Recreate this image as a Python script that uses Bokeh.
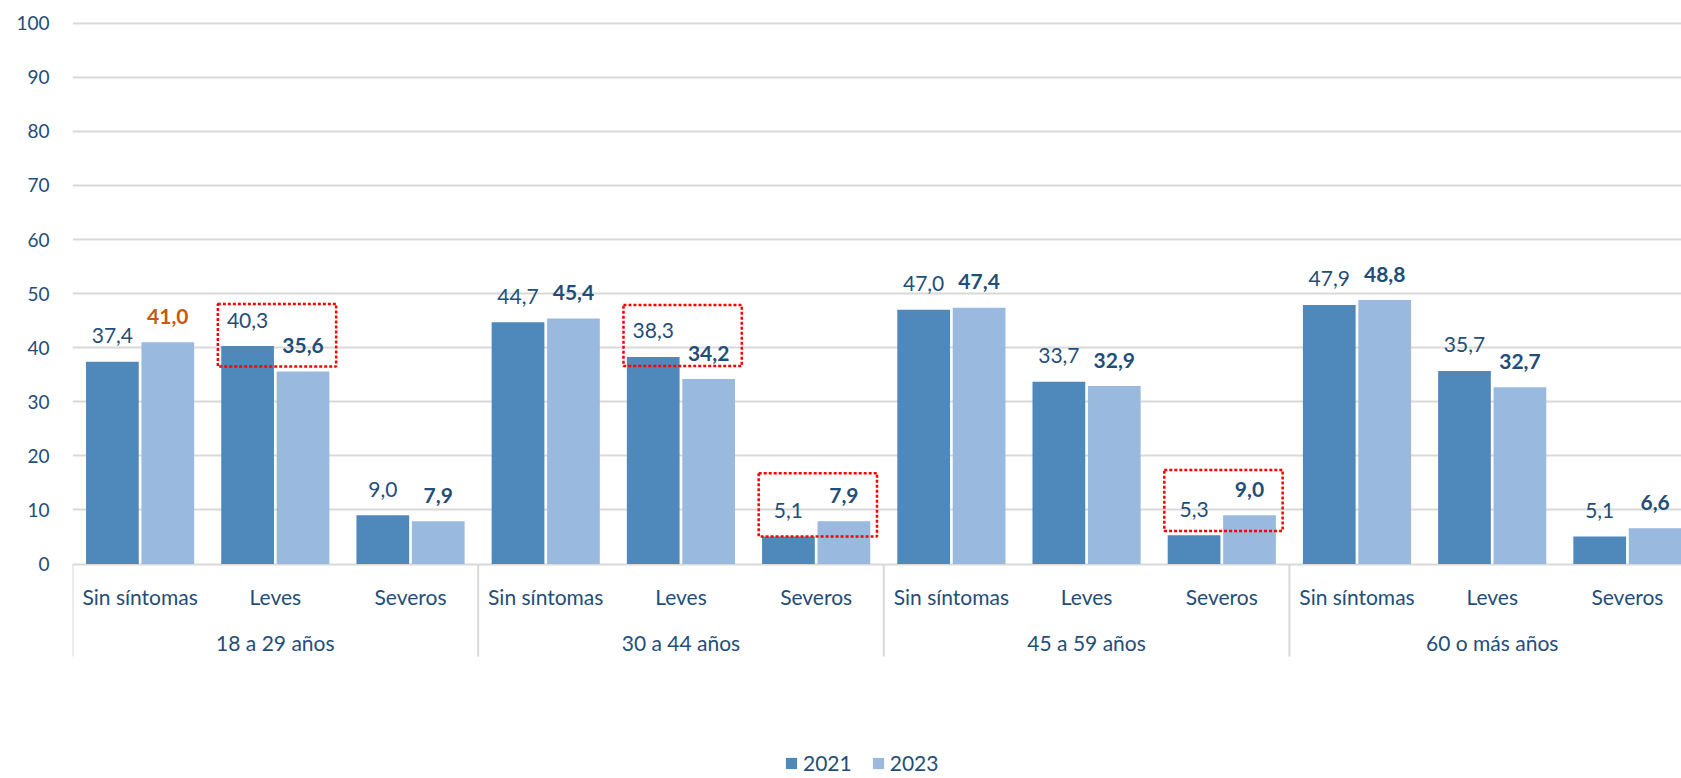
from bokeh.plotting import figure
from bokeh.models import (ColumnDataSource, FixedTicker, Legend, LegendItem,
                          BoxAnnotation)
from bokeh.core.properties import value
from bokeh.embed import file_html
from bokeh.resources import INLINE

# ---------------- data ----------------
groups = ["18 a 29 años", "30 a 44 años", "45 a 59 años", "60 o más años"]
categories = ["Sin síntomas", "Leves", "Severos"]
series = ["2021", "2023"]
values_2021 = [37.4, 40.3, 9.0, 44.7, 38.3, 5.1, 47.0, 33.7, 5.3, 47.9, 35.7, 5.1]
values_2023 = [41.0, 35.6, 7.9, 45.4, 34.2, 7.9, 47.4, 32.9, 9.0, 48.8, 32.7, 6.6]
y_ticks = [0, 10, 20, 30, 40, 50, 60, 70, 80, 90, 100]

# highlighted items (index into the flat category list) and box extents (value units)
highlight_idx = [1, 4, 5, 8]
box_top = [48.1, 47.9, 16.8, 17.4]
box_bottom = [36.5, 36.6, 5.1, 6.1]
orange_idx = [0]   # 2023 label drawn in orange

# ---------------- style ----------------
FONT = "Lato"
TXT = "#1F4E79"
C2021 = "#4F88BB"
C2023 = "#9AB9DE"
ORANGE = "#C55A11"
GRID = "#D9D9D9"
FS_TICK = "19px"
FS = "21px"

n_cat = len(categories)
n = len(groups) * n_cat
idx = list(range(n))
xc = [i + 0.5 for i in idx]
bw = 0.39
off = 0.205

fmt = lambda v: f"{v:.1f}".replace(".", ",")

src21 = ColumnDataSource(dict(x=[x - off for x in xc], top=values_2021,
                              lab=[fmt(v) for v in values_2021]))
src23 = ColumnDataSource(dict(x=[x + off for x in xc], top=values_2023,
                              lab=[fmt(v) for v in values_2023],
                              col=[ORANGE if i in orange_idx else TXT for i in idx]))

p = figure(width=1681, height=778, output_backend="svg", toolbar_location=None,
           x_range=(0, 11.9), y_range=(-39.66, 104.2),
           x_axis_location=None, min_border_left=72, min_border_right=0,
           min_border_top=0, min_border_bottom=0)
p.outline_line_color = None
p.xgrid.visible = False
p.background_fill_color = "white"

# y axis
p.yaxis.ticker = FixedTicker(ticks=y_ticks)
p.yaxis.axis_line_color = None
p.yaxis.major_tick_line_color = None
p.yaxis.minor_tick_line_color = None
p.yaxis.major_tick_in = 0
p.yaxis.major_tick_out = 0
p.yaxis.major_label_standoff = 23
p.yaxis.major_label_text_font = FONT
p.yaxis.major_label_text_font_size = FS_TICK
p.yaxis.major_label_text_color = TXT
p.ygrid.ticker = FixedTicker(ticks=y_ticks)
p.ygrid.grid_line_color = GRID
p.ygrid.grid_line_width = 2

# bars
r21 = p.vbar(x="x", top="top", width=bw, bottom=0, source=src21,
             fill_color=C2021, line_color=None)
r23 = p.vbar(x="x", top="top", width=bw, bottom=0, source=src23,
             fill_color=C2023, line_color=None)

# data labels
p.text(x="x", y="top", text="lab", source=src21, text_align="center",
       text_baseline="alphabetic", y_offset=-26, text_font=value(FONT),
       text_font_size=FS, text_color=TXT)
p.text(x="x", y="top", text="lab", source=src23, text_align="center",
       text_baseline="alphabetic", y_offset=-26, text_font=value(FONT),
       text_font_size=FS, text_color="col", text_font_style="bold")

# category axis labels (drawn below zero)
cat_src = ColumnDataSource(dict(x=xc, y=[-6.0] * n,
                                t=[categories[i % n_cat] for i in idx]))
p.text(x="x", y="y", text="t", source=cat_src, text_align="center",
       text_baseline="middle", text_font=value(FONT), text_font_size=FS,
       text_color=TXT)
grp_src = ColumnDataSource(dict(x=[g * n_cat + n_cat / 2 for g in range(len(groups))],
                                y=[-14.6] * len(groups), t=groups))
p.text(x="x", y="y", text="t", source=grp_src, text_align="center",
       text_baseline="middle", text_font=value(FONT), text_font_size=FS,
       text_color=TXT)
sep_x = [g * n_cat for g in range(len(groups) + 1)]
p.segment(x0=sep_x, y0=[0] * len(sep_x), x1=sep_x, y1=[-17.1] * len(sep_x),
          line_color=GRID, line_width=2)

# red dotted highlight boxes
for k, i in enumerate(highlight_idx):
    p.add_layout(BoxAnnotation(left=i + 0.075, right=i + 0.95,
                               bottom=box_bottom[k], top=box_top[k],
                               fill_color=None, fill_alpha=0,
                               line_color="#FF0000", line_alpha=1.0,
                               line_width=2.5, line_dash="3 2"))

# legend
legend = Legend(items=[LegendItem(label=series[0], renderers=[r21]),
                       LegendItem(label=series[1], renderers=[r23])],
                location=(712, 3), orientation="horizontal",
                label_text_font=FONT, label_text_font_size=FS,
                label_text_color=TXT, glyph_width=14, glyph_height=14,
                label_standoff=5, spacing=19, padding=0, margin=0,
                border_line_color=None, background_fill_alpha=0)
p.add_layout(legend, "center")

open("out.html", "w").write(file_html(p, INLINE))
